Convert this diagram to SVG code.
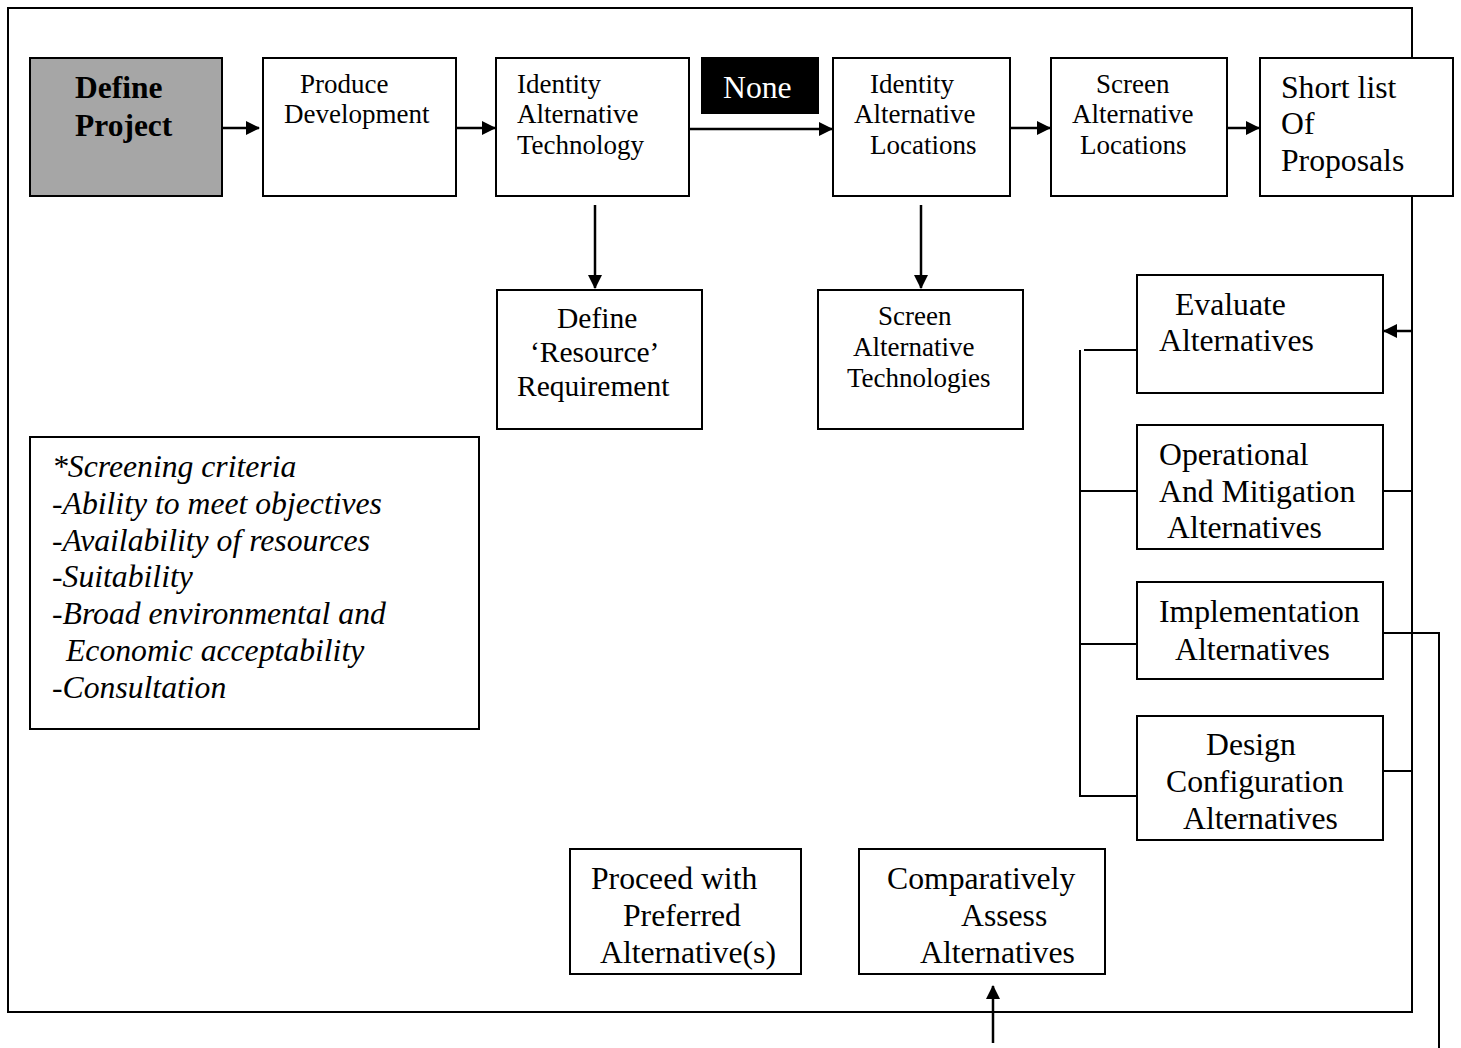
<svg xmlns="http://www.w3.org/2000/svg" width="1461" height="1048" viewBox="0 0 1461 1048">
<defs>
<marker id="ah" markerUnits="userSpaceOnUse" markerWidth="14" markerHeight="14" refX="13" refY="7" orient="auto">
<path d="M0,0 L14,7 L0,14 Z" fill="#000"/>
</marker>
</defs>
<style>
.box{fill:#fff;stroke:#000;stroke-width:2}
.ln{fill:none;stroke:#000;stroke-width:2}
.ar{fill:none;stroke:#000;stroke-width:2.5;marker-end:url(#ah)}
text{font-family:"Liberation Serif","Times New Roman",serif;fill:#000}
.s26{font-size:27px}
.s30{font-size:31.7px}
.it{font-size:31.7px;font-style:italic}
</style>
<rect width="1461" height="1048" fill="#fff"/>
<rect id="frame" x="8" y="8" width="1404" height="1004" class="ln"/>

<g id="connectors">
<line x1="222" y1="128" x2="259" y2="128" class="ar"/>
<line x1="456" y1="128" x2="495" y2="128" class="ar"/>
<line x1="689" y1="129" x2="832" y2="129" class="ar"/>
<line x1="1010" y1="128" x2="1050" y2="128" class="ar"/>
<line x1="1227" y1="128" x2="1259" y2="128" class="ar"/>
<line x1="595" y1="205" x2="595" y2="288" class="ar"/>
<line x1="921" y1="205" x2="921" y2="288" class="ar"/>
<line x1="1412" y1="331" x2="1384" y2="331" class="ar"/>
<polyline points="1084,350 1137,350" class="ln"/>
<polyline points="1080,350 1080,796 1137,796" class="ln"/>
<line x1="1080" y1="491" x2="1137" y2="491" class="ln"/>
<line x1="1080" y1="644" x2="1137" y2="644" class="ln"/>
<line x1="1383" y1="491" x2="1412" y2="491" class="ln"/>
<line x1="1383" y1="771" x2="1412" y2="771" class="ln"/>
<polyline points="1383,633 1439,633 1439,1048" class="ln"/>
<line x1="993" y1="1043" x2="993" y2="986" class="ar"/>
</g>

<g id="define-project">
<rect x="30" y="58" width="192" height="138" fill="#a6a6a6" stroke="#000" stroke-width="2"/>
<text x="75" y="98" font-size="31.5" font-weight="bold">Define</text>
<text x="75" y="136" font-size="31.5" font-weight="bold">Project</text>
</g>
<g id="produce-development">
<rect x="263" y="58" width="193" height="138" class="box"/>
<text x="300" y="93" class="s26">Produce</text>
<text x="284" y="123" class="s26">Development</text>
</g>
<g id="identity-alt-tech">
<rect x="496" y="58" width="193" height="138" class="box"/>
<text x="517" y="93" class="s26">Identity</text>
<text x="517" y="123" class="s26">Alternative</text>
<text x="517" y="154" class="s26">Technology</text>
</g>
<g id="none">
<rect x="701" y="57" width="118" height="57" fill="#000"/>
<text x="723" y="98" class="s30" style="fill:#fff">None</text>
</g>
<g id="identity-alt-loc">
<rect x="833" y="58" width="177" height="138" class="box"/>
<text x="870" y="93" class="s26">Identity</text>
<text x="854" y="123" class="s26">Alternative</text>
<text x="870" y="154" class="s26">Locations</text>
</g>
<g id="screen-alt-loc">
<rect x="1051" y="58" width="176" height="138" class="box"/>
<text x="1096" y="93" class="s26">Screen</text>
<text x="1072" y="123" class="s26">Alternative</text>
<text x="1080" y="154" class="s26">Locations</text>
</g>
<g id="short-list">
<rect x="1260" y="58" width="193" height="138" class="box"/>
<text x="1281" y="98" class="s30">Short list</text>
<text x="1281" y="134" class="s30">Of</text>
<text x="1281" y="171" class="s30">Proposals</text>
</g>
<g id="define-resource">
<rect x="497" y="290" width="205" height="139" class="box"/>
<text x="557" y="328" font-size="29.5">Define</text>
<text x="530" y="362" font-size="29.5">‘Resource’</text>
<text x="517" y="396" font-size="29.5">Requirement</text>
</g>
<g id="screen-alt-tech">
<rect x="818" y="290" width="205" height="139" class="box"/>
<text x="878" y="325" class="s26">Screen</text>
<text x="853" y="356" class="s26">Alternative</text>
<text x="847" y="387" class="s26">Technologies</text>
</g>
<g id="evaluate">
<rect x="1137" y="275" width="246" height="118" class="box"/>
<text x="1175" y="315" class="s30">Evaluate</text>
<text x="1159" y="351" class="s30">Alternatives</text>
</g>
<g id="operational">
<rect x="1137" y="425" width="246" height="124" class="box"/>
<text x="1159" y="465" class="s30">Operational</text>
<text x="1159" y="502" class="s30">And Mitigation</text>
<text x="1167" y="538" class="s30">Alternatives</text>
</g>
<g id="implementation">
<rect x="1137" y="582" width="246" height="97" class="box"/>
<text x="1159" y="622" class="s30">Implementation</text>
<text x="1175" y="660" class="s30">Alternatives</text>
</g>
<g id="design">
<rect x="1137" y="716" width="246" height="124" class="box"/>
<text x="1206" y="755" class="s30">Design</text>
<text x="1166" y="792" class="s30">Configuration</text>
<text x="1183" y="829" class="s30">Alternatives</text>
</g>
<g id="criteria">
<rect x="30" y="437" width="449" height="292" class="box"/>
<text x="52" y="477" class="it">*Screening criteria</text>
<text x="52" y="514" class="it">-Ability to meet objectives</text>
<text x="52" y="551" class="it">-Availability of resources</text>
<text x="52" y="587" class="it">-Suitability</text>
<text x="52" y="624" class="it">-Broad environmental and</text>
<text x="66" y="661" class="it">Economic acceptability</text>
<text x="52" y="698" class="it">-Consultation</text>
</g>
<g id="proceed">
<rect x="570" y="849" width="231" height="125" class="box"/>
<text x="591" y="889" class="s30">Proceed with</text>
<text x="623" y="926" class="s30">Preferred</text>
<text x="600" y="963" class="s30">Alternative(s)</text>
</g>
<g id="comparatively">
<rect x="859" y="849" width="246" height="125" class="box"/>
<text x="887" y="889" class="s30">Comparatively</text>
<text x="961" y="926" class="s30">Assess</text>
<text x="920" y="963" class="s30">Alternatives</text>
</g>
</svg>
